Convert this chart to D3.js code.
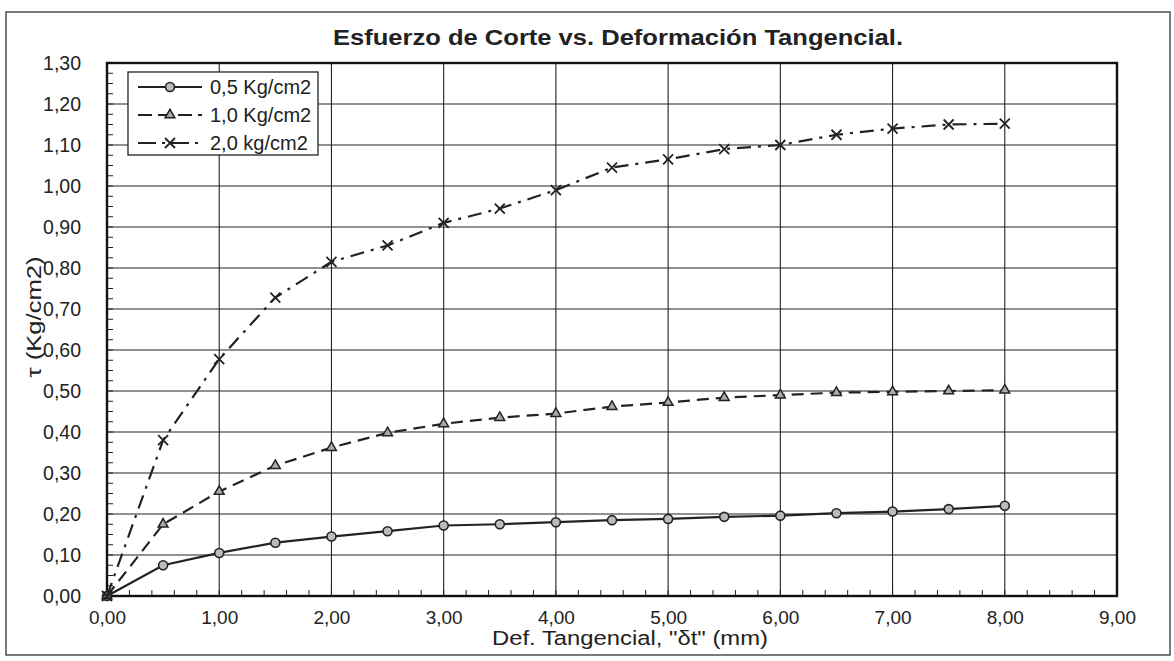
<!DOCTYPE html>
<html><head><meta charset="utf-8">
<script src="https://cdn.jsdelivr.net/npm/d3@7"></script>
<style>body{margin:0;background:#fff}svg{display:block}text{font-family:"Liberation Sans",Arial,sans-serif;fill:#222}</style>
</head><body><svg id="c" width="1174" height="661"></svg>
<script>
const xValues = [0,0.5,1,1.5,2,2.5,3,3.5,4,4.5,5,5.5,6,6.5,7,7.5,8];
const s05 = [0,0.075,0.105,0.130,0.145,0.158,0.172,0.175,0.180,0.185,0.188,0.193,0.196,0.202,0.206,0.212,0.220];
const s10 = [0,0.175,0.255,0.318,0.362,0.398,0.420,0.435,0.445,0.462,0.472,0.484,0.490,0.496,0.498,0.500,0.502];
const s20 = [0,0.380,0.578,0.728,0.815,0.855,0.910,0.945,0.990,1.045,1.065,1.090,1.100,1.125,1.140,1.150,1.152];
const seriesNames = ["0,5 Kg/cm2","1,0 Kg/cm2","2,0 kg/cm2"];
const xTicks = [0,1,2,3,4,5,6,7,8,9];
const yTicks = [0,0.1,0.2,0.3,0.4,0.5,0.6,0.7,0.8,0.9,1.0,1.1,1.2,1.3];
const title = "Esfuerzo de Corte vs. Deformación Tangencial.";
const xTitle = "Def. Tangencial, \"δt\" (mm)";
const yTitle = "τ  (Kg/cm2)";

const svg = d3.select("#c");
const L=107,R=1117,T=63,B=596;
const x = d3.scaleLinear().domain([0,9]).range([L,R]);
const y = d3.scaleLinear().domain([0,1.3]).range([B,T]);
const fmt = d => d3.format(".2f")(d).replace(".",",");

// outer frame
svg.append("rect").attr("x",6).attr("y",12).attr("width",1164).attr("height",643)
  .attr("fill","none").attr("stroke","#333").attr("stroke-width",1.3);

svg.append("text").attr("x",618).attr("y",45).attr("text-anchor","middle")
  .attr("textLength",570).attr("lengthAdjust","spacingAndGlyphs")
  .style("font-size","22px").style("font-weight","bold").text(title);

// grid
const g = svg.append("g");
g.selectAll(".gx").data(xTicks.slice(1,-1)).join("line")
  .attr("x1",d=>x(d)).attr("x2",d=>x(d)).attr("y1",T).attr("y2",B)
  .attr("stroke","#222").attr("stroke-width",1.1);
g.selectAll(".gy").data(yTicks.slice(1,-1)).join("line")
  .attr("y1",d=>y(d)).attr("y2",d=>y(d)).attr("x1",L).attr("x2",R)
  .attr("stroke","#222").attr("stroke-width",1.1);

// axes
const xAxis = d3.axisBottom(x).tickValues(xTicks).tickFormat(fmt).tickSize(0).tickPadding(15);
const xa = svg.append("g").attr("transform",`translate(0,${B})`).call(xAxis);
xa.select(".domain").remove();
xa.selectAll("text").style("font-size","19px").style("font-family","Liberation Sans, Arial").style("fill","#222");
const yAxis = d3.axisLeft(y).tickValues(yTicks).tickFormat(fmt).tickSize(0).tickPadding(26);
const ya = svg.append("g").attr("transform",`translate(${L},0)`).call(yAxis);
ya.select(".domain").remove();
ya.selectAll("text").style("font-size","19.5px").style("font-family","Liberation Sans, Arial").style("fill","#222");

// minor ticks (inside)
const xMinor = d3.range(0,9.001,0.2);
svg.append("g").selectAll("line").data(xMinor).join("line")
  .attr("x1",d=>x(d)).attr("x2",d=>x(d)).attr("y1",B).attr("y2",B-6)
  .attr("stroke","#222").attr("stroke-width",1);
const yMinor = d3.range(0,1.3001,0.025);
svg.append("g").selectAll("line").data(yMinor).join("line")
  .attr("y1",d=>y(d)).attr("y2",d=>y(d)).attr("x1",L).attr("x2",L+6)
  .attr("stroke","#222").attr("stroke-width",1);

// plot frame
svg.append("rect").attr("x",L).attr("y",T).attr("width",R-L).attr("height",B-T)
  .attr("fill","none").attr("stroke","#111").attr("stroke-width",2.4);

svg.append("text").attr("x",630).attr("y",645).attr("text-anchor","middle")
  .attr("textLength",276).attr("lengthAdjust","spacingAndGlyphs")
  .style("font-size","20px").text(xTitle);
svg.append("text").attr("transform",`translate(41,317) rotate(-90)`).attr("text-anchor","middle")
  .attr("textLength",121).attr("lengthAdjust","spacingAndGlyphs")
  .style("font-size","20px").text(yTitle);

// series
const series = [
  {vals:s05, dash:null, marker:"circle"},
  {vals:s10, dash:"12,7", marker:"triangle"},
  {vals:s20, dash:"14,7,3,7", marker:"x"}
];
const line = d3.line().x(d=>x(d[0])).y(d=>y(d[1]));
function drawMarker(sel, type){
  if(type==="circle"){
    sel.append("circle").attr("r",4.5).attr("fill","#bbb").attr("stroke","#222").attr("stroke-width",1.6);
  } else if(type==="triangle"){
    sel.append("path").attr("d",d3.symbol(d3.symbolTriangle,42)()).attr("fill","#aaa").attr("stroke","#222").attr("stroke-width",1.5);
  } else {
    sel.append("path").attr("d","M-5,-5L5,5M-5,5L5,-5").attr("stroke","#222").attr("stroke-width",1.8).attr("fill","none");
  }
}
series.forEach(s=>{
  const pts = xValues.map((xv,i)=>[xv,s.vals[i]]);
  svg.append("path").datum(pts).attr("d",line).attr("fill","none")
    .attr("stroke","#222").attr("stroke-width",2.2).attr("stroke-dasharray",s.dash);
  svg.append("g").selectAll("g").data(pts).join("g")
    .attr("transform",d=>`translate(${x(d[0])},${y(d[1])})`)
    .each(function(){drawMarker(d3.select(this),s.marker);});
});

// legend
const lg = svg.append("g").attr("transform","translate(128,72)");
lg.append("rect").attr("width",190).attr("height",83).attr("fill","#fff").attr("stroke","#222").attr("stroke-width",1.3);
series.forEach((s,i)=>{
  const yy = 15 + i*28;
  lg.append("line").attr("x1",10).attr("x2",74).attr("y1",yy).attr("y2",yy)
    .attr("stroke","#222").attr("stroke-width",2).attr("stroke-dasharray",s.dash?(i===1?"14,6":"18,6,3,6"):null);
  const m = lg.append("g").attr("transform",`translate(42,${yy})`);
  drawMarker(m,s.marker);
  lg.append("text").attr("x",82).attr("y",yy+7).style("font-size","20px").text(seriesNames[i]);
});
</script></body></html>
